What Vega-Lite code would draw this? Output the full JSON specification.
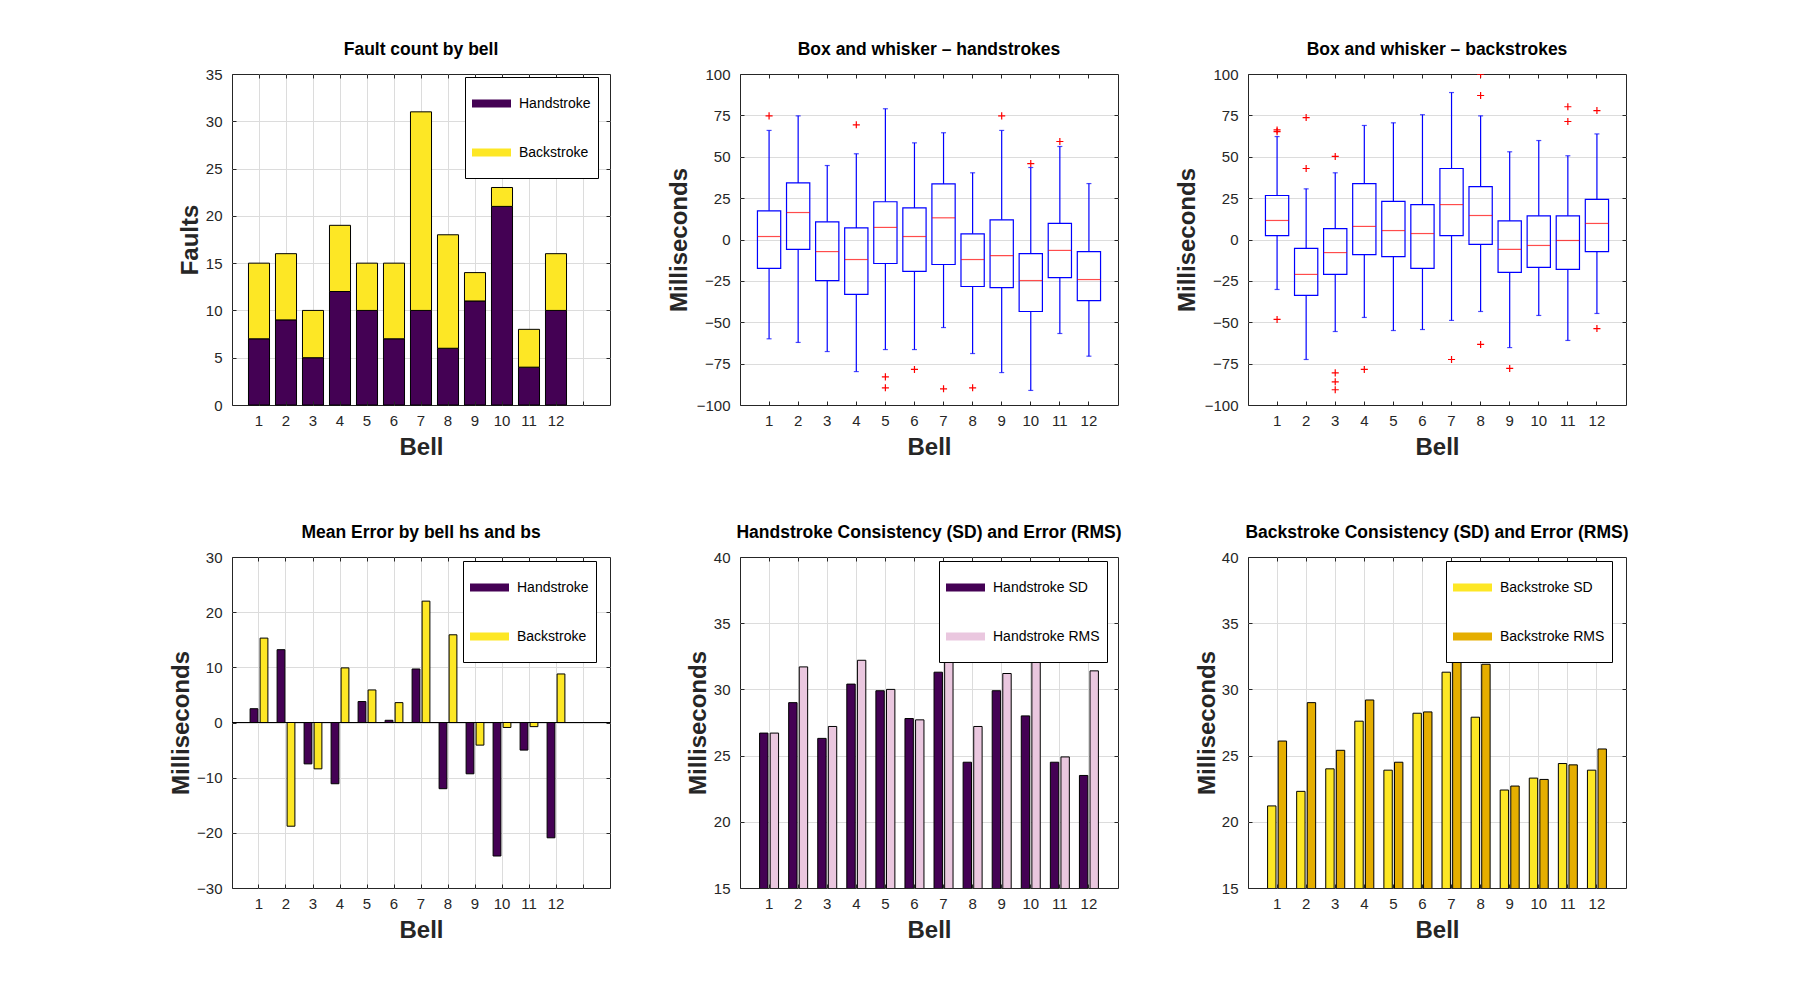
{
  "$schema": "https://vega.github.io/schema/vega-lite/v6.json",
  "padding": {"left": 168, "top": 40, "right": 5, "bottom": 5},
  "config": {
    "font": "Liberation Sans",
    "view": {"stroke": "#262626", "strokeWidth": 1},
    "axis": {
      "labelFont": "Liberation Sans", "labelFontSize": 15, "labelColor": "#262626",
      "titleFont": "Liberation Sans", "titleFontSize": 24, "titleFontWeight": "bold", "titleColor": "#262626",
      "tickColor": "#262626", "tickSize": -4, "domain": false, "grid": false,
      "gridColor": "#dcdcdc", "gridWidth": 1
    },
    "axisX": {"labelPadding": 12},
    "axisY": {"labelPadding": 14},
    "title": {"font": "Liberation Sans", "fontSize": 17.5, "fontWeight": "bold", "color": "black", "offset": 9},
    "legend": {
      "orient": "none", "titleOrient": "bottom", "titleFontSize": 9, "titlePadding": 2,
      "symbolType": "M-1,-0.2L1,-0.2L1,0.2L-1,0.2Z", "symbolSize": 1521, "symbolStrokeWidth": 0,
      "labelFont": "Liberation Sans", "labelFontSize": 14, "labelColor": "black", "labelOffset": 8,
      "rowPadding": 22, "padding": 7, "strokeColor": "black", "fillColor": "white"
    }
  },
  "datasets": {
    "faults": [
      {"bell": 1, "stroke": "Handstroke", "n": 7}, {"bell": 1, "stroke": "Backstroke", "n": 8},
      {"bell": 2, "stroke": "Handstroke", "n": 9}, {"bell": 2, "stroke": "Backstroke", "n": 7},
      {"bell": 3, "stroke": "Handstroke", "n": 5}, {"bell": 3, "stroke": "Backstroke", "n": 5},
      {"bell": 4, "stroke": "Handstroke", "n": 12}, {"bell": 4, "stroke": "Backstroke", "n": 7},
      {"bell": 5, "stroke": "Handstroke", "n": 10}, {"bell": 5, "stroke": "Backstroke", "n": 5},
      {"bell": 6, "stroke": "Handstroke", "n": 7}, {"bell": 6, "stroke": "Backstroke", "n": 8},
      {"bell": 7, "stroke": "Handstroke", "n": 10}, {"bell": 7, "stroke": "Backstroke", "n": 21},
      {"bell": 8, "stroke": "Handstroke", "n": 6}, {"bell": 8, "stroke": "Backstroke", "n": 12},
      {"bell": 9, "stroke": "Handstroke", "n": 11}, {"bell": 9, "stroke": "Backstroke", "n": 3},
      {"bell": 10, "stroke": "Handstroke", "n": 21}, {"bell": 10, "stroke": "Backstroke", "n": 2},
      {"bell": 11, "stroke": "Handstroke", "n": 4}, {"bell": 11, "stroke": "Backstroke", "n": 4},
      {"bell": 12, "stroke": "Handstroke", "n": 10}, {"bell": 12, "stroke": "Backstroke", "n": 6}
    ],
    "meanerr": [
      {"bell": 1, "stroke": "Handstroke", "ms": 2.5}, {"bell": 1, "stroke": "Backstroke", "ms": 15.3},
      {"bell": 2, "stroke": "Handstroke", "ms": 13.2}, {"bell": 2, "stroke": "Backstroke", "ms": -18.8},
      {"bell": 3, "stroke": "Handstroke", "ms": -7.5}, {"bell": 3, "stroke": "Backstroke", "ms": -8.4},
      {"bell": 4, "stroke": "Handstroke", "ms": -11.1}, {"bell": 4, "stroke": "Backstroke", "ms": 9.9},
      {"bell": 5, "stroke": "Handstroke", "ms": 3.8}, {"bell": 5, "stroke": "Backstroke", "ms": 5.9},
      {"bell": 6, "stroke": "Handstroke", "ms": 0.4}, {"bell": 6, "stroke": "Backstroke", "ms": 3.6},
      {"bell": 7, "stroke": "Handstroke", "ms": 9.7}, {"bell": 7, "stroke": "Backstroke", "ms": 22.0},
      {"bell": 8, "stroke": "Handstroke", "ms": -12.0}, {"bell": 8, "stroke": "Backstroke", "ms": 15.9},
      {"bell": 9, "stroke": "Handstroke", "ms": -9.3}, {"bell": 9, "stroke": "Backstroke", "ms": -4.1},
      {"bell": 10, "stroke": "Handstroke", "ms": -24.2}, {"bell": 10, "stroke": "Backstroke", "ms": -0.9},
      {"bell": 11, "stroke": "Handstroke", "ms": -5.0}, {"bell": 11, "stroke": "Backstroke", "ms": -0.75},
      {"bell": 12, "stroke": "Handstroke", "ms": -20.9}, {"bell": 12, "stroke": "Backstroke", "ms": 8.8}
    ],
    "hs": [
      {"bell": 1, "stat": "Handstroke SD", "ms": 26.7}, {"bell": 1, "stat": "Handstroke RMS", "ms": 26.7},
      {"bell": 2, "stat": "Handstroke SD", "ms": 29.0}, {"bell": 2, "stat": "Handstroke RMS", "ms": 31.7},
      {"bell": 3, "stat": "Handstroke SD", "ms": 26.3}, {"bell": 3, "stat": "Handstroke RMS", "ms": 27.2},
      {"bell": 4, "stat": "Handstroke SD", "ms": 30.4}, {"bell": 4, "stat": "Handstroke RMS", "ms": 32.2},
      {"bell": 5, "stat": "Handstroke SD", "ms": 29.9}, {"bell": 5, "stat": "Handstroke RMS", "ms": 30.0},
      {"bell": 6, "stat": "Handstroke SD", "ms": 27.8}, {"bell": 6, "stat": "Handstroke RMS", "ms": 27.7},
      {"bell": 7, "stat": "Handstroke SD", "ms": 31.3}, {"bell": 7, "stat": "Handstroke RMS", "ms": 32.6},
      {"bell": 8, "stat": "Handstroke SD", "ms": 24.5}, {"bell": 8, "stat": "Handstroke RMS", "ms": 27.2},
      {"bell": 9, "stat": "Handstroke SD", "ms": 29.9}, {"bell": 9, "stat": "Handstroke RMS", "ms": 31.2},
      {"bell": 10, "stat": "Handstroke SD", "ms": 28.0}, {"bell": 10, "stat": "Handstroke RMS", "ms": 36.8},
      {"bell": 11, "stat": "Handstroke SD", "ms": 24.5}, {"bell": 11, "stat": "Handstroke RMS", "ms": 24.9},
      {"bell": 12, "stat": "Handstroke SD", "ms": 23.5}, {"bell": 12, "stat": "Handstroke RMS", "ms": 31.4}
    ],
    "bs": [
      {"bell": 1, "stat": "Backstroke SD", "ms": 21.2}, {"bell": 1, "stat": "Backstroke RMS", "ms": 26.1},
      {"bell": 2, "stat": "Backstroke SD", "ms": 22.3}, {"bell": 2, "stat": "Backstroke RMS", "ms": 29.0},
      {"bell": 3, "stat": "Backstroke SD", "ms": 24.0}, {"bell": 3, "stat": "Backstroke RMS", "ms": 25.4},
      {"bell": 4, "stat": "Backstroke SD", "ms": 27.6}, {"bell": 4, "stat": "Backstroke RMS", "ms": 29.2},
      {"bell": 5, "stat": "Backstroke SD", "ms": 23.9}, {"bell": 5, "stat": "Backstroke RMS", "ms": 24.5},
      {"bell": 6, "stat": "Backstroke SD", "ms": 28.2}, {"bell": 6, "stat": "Backstroke RMS", "ms": 28.3},
      {"bell": 7, "stat": "Backstroke SD", "ms": 31.3}, {"bell": 7, "stat": "Backstroke RMS", "ms": 38.1},
      {"bell": 8, "stat": "Backstroke SD", "ms": 27.9}, {"bell": 8, "stat": "Backstroke RMS", "ms": 31.9},
      {"bell": 9, "stat": "Backstroke SD", "ms": 22.4}, {"bell": 9, "stat": "Backstroke RMS", "ms": 22.7},
      {"bell": 10, "stat": "Backstroke SD", "ms": 23.3}, {"bell": 10, "stat": "Backstroke RMS", "ms": 23.2},
      {"bell": 11, "stat": "Backstroke SD", "ms": 24.4}, {"bell": 11, "stat": "Backstroke RMS", "ms": 24.3},
      {"bell": 12, "stat": "Backstroke SD", "ms": 23.9}, {"bell": 12, "stat": "Backstroke RMS", "ms": 25.5}
    ],
    "hbox": [
      {"bell": 1, "lower": -60.0, "q1": -17.5, "median": 1.8, "q3": 17.3, "upper": 65.9},
      {"bell": 2, "lower": -62.2, "q1": -6.0, "median": 16.3, "q3": 34.2, "upper": 74.7},
      {"bell": 3, "lower": -67.7, "q1": -24.8, "median": -7.3, "q3": 10.7, "upper": 44.7},
      {"bell": 4, "lower": -79.8, "q1": -33.2, "median": -12.1, "q3": 7.0, "upper": 51.8},
      {"bell": 5, "lower": -66.5, "q1": -14.5, "median": 7.3, "q3": 22.8, "upper": 79.0},
      {"bell": 6, "lower": -66.5, "q1": -19.3, "median": 1.8, "q3": 19.1, "upper": 58.4},
      {"bell": 7, "lower": -53.2, "q1": -15.1, "median": 13.1, "q3": 33.6, "upper": 64.5},
      {"bell": 8, "lower": -68.9, "q1": -28.4, "median": -12.1, "q3": 3.4, "upper": 40.3},
      {"bell": 9, "lower": -80.4, "q1": -29.1, "median": -9.7, "q3": 11.9, "upper": 65.9},
      {"bell": 10, "lower": -91.2, "q1": -43.5, "median": -24.8, "q3": -8.5, "upper": 43.5},
      {"bell": 11, "lower": -56.8, "q1": -23.0, "median": -6.6, "q3": 9.7, "upper": 56.2},
      {"bell": 12, "lower": -70.5, "q1": -36.9, "median": -24.2, "q3": -7.3, "upper": 33.8}
    ],
    "hout": [
      {"bell": 1, "ms": 74.7}, {"bell": 4, "ms": 69.3}, {"bell": 5, "ms": -83.0}, {"bell": 5, "ms": -89.6},
      {"bell": 6, "ms": -78.5}, {"bell": 7, "ms": -90.2}, {"bell": 8, "ms": -89.6}, {"bell": 9, "ms": 74.7},
      {"bell": 10, "ms": 45.9}, {"bell": 11, "ms": 59.2}
    ],
    "bbox": [
      {"bell": 1, "lower": -30.2, "q1": 2.4, "median": 11.5, "q3": 26.6, "upper": 62.2},
      {"bell": 2, "lower": -72.5, "q1": -33.8, "median": -21.1, "q3": -5.4, "upper": 30.6},
      {"bell": 3, "lower": -55.6, "q1": -21.1, "median": -7.9, "q3": 6.6, "upper": 40.3},
      {"bell": 4, "lower": -47.1, "q1": -9.1, "median": 7.9, "q3": 33.8, "upper": 68.9},
      {"bell": 5, "lower": -55.0, "q1": -10.3, "median": 5.4, "q3": 23.0, "upper": 70.5},
      {"bell": 6, "lower": -54.4, "q1": -17.5, "median": 3.6, "q3": 21.1, "upper": 75.4},
      {"bell": 7, "lower": -48.9, "q1": 2.4, "median": 21.1, "q3": 42.9, "upper": 88.8},
      {"bell": 8, "lower": -43.5, "q1": -3.0, "median": 14.5, "q3": 32.0, "upper": 74.7},
      {"bell": 9, "lower": -65.3, "q1": -19.9, "median": -6.0, "q3": 11.3, "upper": 53.0},
      {"bell": 10, "lower": -45.9, "q1": -16.9, "median": -3.6, "q3": 14.3, "upper": 59.8},
      {"bell": 11, "lower": -61.0, "q1": -18.1, "median": -0.6, "q3": 14.3, "upper": 50.6},
      {"bell": 12, "lower": -44.7, "q1": -7.3, "median": 9.7, "q3": 24.2, "upper": 63.8}
    ],
    "bout": [
      {"bell": 1, "ms": 65.2}, {"bell": 1, "ms": 66.2}, {"bell": 1, "ms": -48.3},
      {"bell": 2, "ms": 73.7}, {"bell": 2, "ms": 42.9},
      {"bell": 3, "ms": 50.2}, {"bell": 3, "ms": -80.6}, {"bell": 3, "ms": -86.0}, {"bell": 3, "ms": -90.8},
      {"bell": 4, "ms": -78.5}, {"bell": 7, "ms": -72.5},
      {"bell": 8, "ms": 99.9}, {"bell": 8, "ms": 87.0}, {"bell": 8, "ms": -63.4},
      {"bell": 9, "ms": -77.9}, {"bell": 11, "ms": 80.2}, {"bell": 11, "ms": 71.3},
      {"bell": 12, "ms": 77.9}, {"bell": 12, "ms": -53.8}
    ]
  },
  "bounds": "flush",
  "columns": 3,
  "spacing": {"row": 152, "column": 130},
  "resolve": {"scale": {"color": "independent"}},
  "concat": [
    {
      "width": 378, "height": 331,
      "title": "Fault count by bell",
      "data": {"name": "faults"},
      "resolve": {"axis": {"x": "independent", "y": "independent"}},
      "layer": [
        {
          "mark": {"type": "point", "opacity": 0},
          "encoding": {
            "x": {"field": "bell", "type": "ordinal",
              "scale": {"domain": [1, 2, 3, 4, 5, 6, 7, 8, 9, 10, 11, 12, 13], "paddingInner": 0.22, "paddingOuter": 0.61},
              "axis": {"orient": "top", "labels": false, "title": null, "grid": true, "bandPosition": 0.5}},
            "y": {"field": "n", "type": "quantitative", "scale": {"domain": [0, 35], "nice": false},
              "axis": {"orient": "right", "labels": false, "title": null, "grid": true, "values": [5, 10, 15, 20, 25, 30]}}
          }
        },
        {
          "mark": {"type": "bar", "stroke": "black", "strokeWidth": 1},
          "encoding": {
            "x": {"field": "bell", "type": "ordinal",
              "axis": {"orient": "bottom", "title": "Bell", "labelAngle": 0, "bandPosition": 0.5, "zindex": 1,
                "labelExpr": "datum.value == 13 ? '' : datum.label", "titleY": 49, "titleBaseline": "alphabetic"}},
            "y": {"field": "n", "type": "quantitative", "stack": "zero",
              "axis": {"orient": "left", "title": "Faults", "values": [0, 5, 10, 15, 20, 25, 30, 35], "zindex": 1,
                "titleX": -35, "titleY": 165.5, "titleBaseline": "alphabetic"}},
            "color": {"field": "stroke", "type": "nominal",
              "scale": {"domain": ["Handstroke", "Backstroke"], "range": ["#440154", "#fde725"]},
              "legend": {"title": "\u00a0", "legendX": 233, "legendY": 3}},
            "order": {"field": "stroke", "sort": "descending"}
          }
        }
      ]
    },
    {
      "width": 378, "height": 331,
      "title": "Box and whisker – handstrokes",
      "resolve": {"axis": {"x": "independent", "y": "independent"}},
      "layer": [
        {
          "data": {"name": "hbox"},
          "mark": {"type": "point", "opacity": 0},
          "encoding": {
            "x": {"field": "bell", "type": "ordinal",
              "scale": {"domain": [1, 2, 3, 4, 5, 6, 7, 8, 9, 10, 11, 12], "paddingInner": 0.2, "paddingOuter": 0.6},
              "axis": {"orient": "top", "labels": false, "title": null, "grid": false, "bandPosition": 0.5}},
            "y": {"field": "median", "type": "quantitative", "scale": {"domain": [-100, 100], "nice": false},
              "axis": {"orient": "right", "labels": false, "title": null, "grid": true, "values": [-75, -50, -25, 0, 25, 50, 75]}}
          }
        },
        {
          "data": {"name": "hbox"},
          "mark": {"type": "rule", "color": "#0000ff", "strokeWidth": 1.2},
          "encoding": {
            "x": {"field": "bell", "type": "ordinal",
              "axis": {"orient": "bottom", "title": "Bell", "labelAngle": 0, "bandPosition": 0.5, "zindex": 1,
                "titleY": 49, "titleBaseline": "alphabetic"}},
            "y": {"field": "q3", "type": "quantitative",
              "axis": {"orient": "left", "title": "Milliseconds", "values": [-100, -75, -50, -25, 0, 25, 50, 75, 100], "zindex": 1,
                "titleX": -54, "titleY": 165.5, "titleBaseline": "alphabetic"}},
            "y2": {"field": "upper"}
          }
        },
        {
          "data": {"name": "hbox"},
          "mark": {"type": "rule", "color": "#0000ff", "strokeWidth": 1.2},
          "encoding": {
            "x": {"field": "bell", "type": "ordinal", "axis": null},
            "y": {"field": "lower", "type": "quantitative", "axis": null},
            "y2": {"field": "q1"}
          }
        },
        {
          "data": {"name": "hbox"},
          "mark": {"type": "bar", "filled": false, "stroke": "#0000ff", "strokeWidth": 1.2},
          "encoding": {
            "x": {"field": "bell", "type": "ordinal", "axis": null},
            "y": {"field": "q1", "type": "quantitative", "axis": null},
            "y2": {"field": "q3"}
          }
        },
        {
          "data": {"name": "hbox"},
          "mark": {"type": "tick", "color": "#ff0000", "size": 23, "thickness": 1.2},
          "encoding": {
            "x": {"field": "bell", "type": "ordinal", "axis": null},
            "y": {"field": "median", "type": "quantitative", "axis": null}
          }
        },
        {
          "data": {"name": "hbox"},
          "mark": {"type": "tick", "color": "#0000ff", "size": 5, "thickness": 1.2},
          "encoding": {
            "x": {"field": "bell", "type": "ordinal", "axis": null},
            "y": {"field": "upper", "type": "quantitative", "axis": null}
          }
        },
        {
          "data": {"name": "hbox"},
          "mark": {"type": "tick", "color": "#0000ff", "size": 5, "thickness": 1.2},
          "encoding": {
            "x": {"field": "bell", "type": "ordinal", "axis": null},
            "y": {"field": "lower", "type": "quantitative", "axis": null}
          }
        },
        {
          "data": {"name": "hout"},
          "mark": {"type": "point", "shape": "M-1,0L1,0M0,-1L0,1", "filled": false, "stroke": "#ff0000", "strokeWidth": 1.2, "size": 50, "opacity": 1, "clip": true},
          "encoding": {
            "x": {"field": "bell", "type": "ordinal", "axis": null},
            "y": {"field": "ms", "type": "quantitative", "axis": null}
          }
        }
      ]
    },
    {
      "width": 378, "height": 331,
      "title": "Box and whisker – backstrokes",
      "resolve": {"axis": {"x": "independent", "y": "independent"}},
      "layer": [
        {
          "data": {"name": "bbox"},
          "mark": {"type": "point", "opacity": 0},
          "encoding": {
            "x": {"field": "bell", "type": "ordinal",
              "scale": {"domain": [1, 2, 3, 4, 5, 6, 7, 8, 9, 10, 11, 12], "paddingInner": 0.2, "paddingOuter": 0.6},
              "axis": {"orient": "top", "labels": false, "title": null, "grid": false, "bandPosition": 0.5}},
            "y": {"field": "median", "type": "quantitative", "scale": {"domain": [-100, 100], "nice": false},
              "axis": {"orient": "right", "labels": false, "title": null, "grid": true, "values": [-75, -50, -25, 0, 25, 50, 75]}}
          }
        },
        {
          "data": {"name": "bbox"},
          "mark": {"type": "rule", "color": "#0000ff", "strokeWidth": 1.2},
          "encoding": {
            "x": {"field": "bell", "type": "ordinal",
              "axis": {"orient": "bottom", "title": "Bell", "labelAngle": 0, "bandPosition": 0.5, "zindex": 1,
                "titleY": 49, "titleBaseline": "alphabetic"}},
            "y": {"field": "q3", "type": "quantitative",
              "axis": {"orient": "left", "title": "Milliseconds", "values": [-100, -75, -50, -25, 0, 25, 50, 75, 100], "zindex": 1,
                "titleX": -54, "titleY": 165.5, "titleBaseline": "alphabetic"}},
            "y2": {"field": "upper"}
          }
        },
        {
          "data": {"name": "bbox"},
          "mark": {"type": "rule", "color": "#0000ff", "strokeWidth": 1.2},
          "encoding": {
            "x": {"field": "bell", "type": "ordinal", "axis": null},
            "y": {"field": "lower", "type": "quantitative", "axis": null},
            "y2": {"field": "q1"}
          }
        },
        {
          "data": {"name": "bbox"},
          "mark": {"type": "bar", "filled": false, "stroke": "#0000ff", "strokeWidth": 1.2},
          "encoding": {
            "x": {"field": "bell", "type": "ordinal", "axis": null},
            "y": {"field": "q1", "type": "quantitative", "axis": null},
            "y2": {"field": "q3"}
          }
        },
        {
          "data": {"name": "bbox"},
          "mark": {"type": "tick", "color": "#ff0000", "size": 23, "thickness": 1.2},
          "encoding": {
            "x": {"field": "bell", "type": "ordinal", "axis": null},
            "y": {"field": "median", "type": "quantitative", "axis": null}
          }
        },
        {
          "data": {"name": "bbox"},
          "mark": {"type": "tick", "color": "#0000ff", "size": 5, "thickness": 1.2},
          "encoding": {
            "x": {"field": "bell", "type": "ordinal", "axis": null},
            "y": {"field": "upper", "type": "quantitative", "axis": null}
          }
        },
        {
          "data": {"name": "bbox"},
          "mark": {"type": "tick", "color": "#0000ff", "size": 5, "thickness": 1.2},
          "encoding": {
            "x": {"field": "bell", "type": "ordinal", "axis": null},
            "y": {"field": "lower", "type": "quantitative", "axis": null}
          }
        },
        {
          "data": {"name": "bout"},
          "mark": {"type": "point", "shape": "M-1,0L1,0M0,-1L0,1", "filled": false, "stroke": "#ff0000", "strokeWidth": 1.2, "size": 50, "opacity": 1, "clip": true},
          "encoding": {
            "x": {"field": "bell", "type": "ordinal", "axis": null},
            "y": {"field": "ms", "type": "quantitative", "axis": null}
          }
        }
      ]
    },
    {
      "width": 378, "height": 331,
      "title": "Mean Error by bell hs and bs",
      "data": {"name": "meanerr"},
      "resolve": {"axis": {"x": "independent", "y": "independent"}},
      "layer": [
        {
          "mark": {"type": "point", "opacity": 0},
          "encoding": {
            "x": {"field": "bell", "type": "ordinal",
              "scale": {"domain": [1, 2, 3, 4, 5, 6, 7, 8, 9, 10, 11, 12, 13], "paddingInner": 0.35, "paddingOuter": 0.675},
              "axis": {"orient": "top", "labels": false, "title": null, "grid": true, "bandPosition": 0.5}},
            "y": {"field": "ms", "type": "quantitative", "scale": {"domain": [-30, 30], "nice": false},
              "axis": {"orient": "right", "labels": false, "title": null, "grid": true, "values": [-20, -10, 0, 10, 20]}}
          }
        },
        {
          "transform": [{"filter": "datum.stroke == 'Handstroke'"}],
          "mark": {"type": "bar", "stroke": "black", "strokeWidth": 1, "width": {"band": 0.444}, "xOffset": -5},
          "encoding": {
            "x": {"field": "bell", "type": "ordinal",
              "axis": {"orient": "bottom", "title": "Bell", "labelAngle": 0, "bandPosition": 0.5, "zindex": 1,
                "labelExpr": "datum.value == 13 ? '' : datum.label", "titleY": 49, "titleBaseline": "alphabetic"}},
            "y": {"field": "ms", "type": "quantitative",
              "axis": {"orient": "left", "title": "Milliseconds", "values": [-30, -20, -10, 0, 10, 20, 30], "zindex": 1,
                "titleX": -44, "titleY": 165.5, "titleBaseline": "alphabetic"}},
            "color": {"field": "stroke", "type": "nominal",
              "scale": {"domain": ["Handstroke", "Backstroke"], "range": ["#440154", "#fde725"]},
              "legend": {"title": "\u00a0", "legendX": 231, "legendY": 4}}
          }
        },
        {
          "transform": [{"filter": "datum.stroke == 'Backstroke'"}],
          "mark": {"type": "bar", "stroke": "black", "strokeWidth": 1, "width": {"band": 0.444}, "xOffset": 5},
          "encoding": {
            "x": {"field": "bell", "type": "ordinal", "axis": null},
            "y": {"field": "ms", "type": "quantitative", "axis": null},
            "color": {"field": "stroke", "type": "nominal"}
          }
        },
        {
          "mark": {"type": "rule", "color": "black", "strokeWidth": 1},
          "encoding": {"y": {"datum": 0, "type": "quantitative", "axis": null}}
        }
      ]
    },
    {
      "width": 378, "height": 331,
      "title": "Handstroke Consistency (SD) and Error (RMS)",
      "data": {"name": "hs"},
      "resolve": {"axis": {"x": "independent", "y": "independent"}},
      "layer": [
        {
          "mark": {"type": "point", "opacity": 0},
          "encoding": {
            "x": {"field": "bell", "type": "ordinal",
              "scale": {"domain": [1, 2, 3, 4, 5, 6, 7, 8, 9, 10, 11, 12], "paddingInner": 0.35, "paddingOuter": 0.675},
              "axis": {"orient": "top", "labels": false, "title": null, "grid": true, "bandPosition": 0.5}},
            "y": {"field": "ms", "type": "quantitative", "scale": {"domain": [15, 40], "nice": false, "zero": false},
              "axis": {"orient": "right", "labels": false, "title": null, "grid": true, "values": [20, 25, 30, 35]}}
          }
        },
        {
          "transform": [{"filter": "datum.stat == 'Handstroke SD'"}],
          "mark": {"type": "bar", "stroke": "black", "strokeWidth": 1, "clip": true, "width": {"band": 0.444}, "xOffset": -5.3},
          "encoding": {
            "x": {"field": "bell", "type": "ordinal",
              "axis": {"orient": "bottom", "title": "Bell", "labelAngle": 0, "bandPosition": 0.5, "zindex": 1,
                "titleY": 49, "titleBaseline": "alphabetic"}},
            "y": {"field": "ms", "type": "quantitative",
              "axis": {"orient": "left", "title": "Milliseconds", "values": [15, 20, 25, 30, 35, 40], "zindex": 1,
                "titleX": -35, "titleY": 165.5, "titleBaseline": "alphabetic"}},
            "color": {"field": "stat", "type": "nominal",
              "scale": {"domain": ["Handstroke SD", "Handstroke RMS"], "range": ["#440154", "#eac7df"]},
              "legend": {"title": "\u00a0", "legendX": 199, "legendY": 4}}
          }
        },
        {
          "transform": [{"filter": "datum.stat == 'Handstroke RMS'"}],
          "mark": {"type": "bar", "stroke": "black", "strokeWidth": 1, "clip": true, "width": {"band": 0.444}, "xOffset": 5.3},
          "encoding": {
            "x": {"field": "bell", "type": "ordinal", "axis": null},
            "y": {"field": "ms", "type": "quantitative", "axis": null},
            "color": {"field": "stat", "type": "nominal"}
          }
        }
      ]
    },
    {
      "width": 378, "height": 331,
      "title": "Backstroke Consistency (SD) and Error (RMS)",
      "data": {"name": "bs"},
      "resolve": {"axis": {"x": "independent", "y": "independent"}},
      "layer": [
        {
          "mark": {"type": "point", "opacity": 0},
          "encoding": {
            "x": {"field": "bell", "type": "ordinal",
              "scale": {"domain": [1, 2, 3, 4, 5, 6, 7, 8, 9, 10, 11, 12], "paddingInner": 0.35, "paddingOuter": 0.675},
              "axis": {"orient": "top", "labels": false, "title": null, "grid": true, "bandPosition": 0.5}},
            "y": {"field": "ms", "type": "quantitative", "scale": {"domain": [15, 40], "nice": false, "zero": false},
              "axis": {"orient": "right", "labels": false, "title": null, "grid": true, "values": [20, 25, 30, 35]}}
          }
        },
        {
          "transform": [{"filter": "datum.stat == 'Backstroke SD'"}],
          "mark": {"type": "bar", "stroke": "black", "strokeWidth": 1, "clip": true, "width": {"band": 0.444}, "xOffset": -5.3},
          "encoding": {
            "x": {"field": "bell", "type": "ordinal",
              "axis": {"orient": "bottom", "title": "Bell", "labelAngle": 0, "bandPosition": 0.5, "zindex": 1,
                "titleY": 49, "titleBaseline": "alphabetic"}},
            "y": {"field": "ms", "type": "quantitative",
              "axis": {"orient": "left", "title": "Milliseconds", "values": [15, 20, 25, 30, 35, 40], "zindex": 1,
                "titleX": -34, "titleY": 165.5, "titleBaseline": "alphabetic"}},
            "color": {"field": "stat", "type": "nominal",
              "scale": {"domain": ["Backstroke SD", "Backstroke RMS"], "range": ["#fde725", "#e5ae00"]},
              "legend": {"title": "\u00a0", "legendX": 198, "legendY": 4}}
          }
        },
        {
          "transform": [{"filter": "datum.stat == 'Backstroke RMS'"}],
          "mark": {"type": "bar", "stroke": "black", "strokeWidth": 1, "clip": true, "width": {"band": 0.444}, "xOffset": 5.3},
          "encoding": {
            "x": {"field": "bell", "type": "ordinal", "axis": null},
            "y": {"field": "ms", "type": "quantitative", "axis": null},
            "color": {"field": "stat", "type": "nominal"}
          }
        }
      ]
    }
  ]
}
